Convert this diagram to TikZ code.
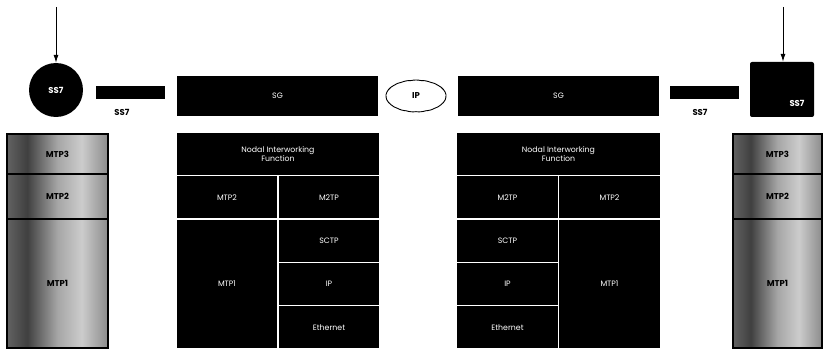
\documentclass[tikz,border=0pt]{standalone}
\usepackage{fontspec}
\setmainfont{Poppins}
\usetikzlibrary{arrows.meta,shapes.symbols,shapes.geometric}
\pgfdeclarehorizontalshading{stackgray}{100bp}{color(0bp)=(black!30); color(20bp)=(black!55); color(35bp)=(black!75); color(50bp)=(black!35); color(62bp)=(black!20); color(80bp)=(black!55); color(100bp)=(black!30)}
\tikzset{
  cell/.style={rectangle, fill=black, draw=white, line width=1.6pt, inner sep=0pt, text=white, font=\fontsize{7.8}{9}\selectfont, align=center},
  graycell/.style={rectangle, shading=stackgray, draw=black, line width=1.3pt, inner sep=0pt, text=black, font=\bfseries\fontsize{8.5}{9.5}\selectfont},
  bar/.style={rectangle, fill=black, inner sep=0pt, minimum width=69pt, minimum height=13pt},
  lbl/.style={font=\bfseries\fontsize{8.5}{9.5}\selectfont, inner sep=0pt},
  inarrow/.style={-{Latex[length=8pt,width=5pt]}, line width=0.9pt}
}
\begin{document}
\begin{tikzpicture}[x=1pt,y=-1pt]
\useasboundingbox (0,0) rectangle (823,350);
% left side
\node[circle, fill=black, minimum size=54pt, inner sep=0pt, text=white, lbl] (c1) at (56,90) {SS7};
\coordinate (a1) at (56,7);
\draw[inarrow] (a1) -- (c1.north);
\node[bar] (barL) at (130.5,92.5) {};
\node[lbl] (barLl) at (122,112) {SS7};
\node[cell, minimum width=203pt, minimum height=42pt] (sgL) at (277.5,96) {SG};
\node[cloud, cloud puffs=19, cloud puff arc=25, aspect=2.2, draw=black, line width=0.9pt, fill=white, minimum width=60pt, minimum height=32pt, inner sep=0pt, lbl] (ip) at (416,96) {IP};
\node[cell, minimum width=203pt, minimum height=42pt] (sgR) at (558.5,96) {SG};
\node[bar] (barR) at (704,92.5) {};
\node[lbl] (barRl) at (700,112) {SS7};
\node[rectangle, rounded corners=2pt, fill=black, minimum width=64pt, minimum height=55pt, inner sep=0pt] (sq) at (782,89.5) {};
\node[lbl, text=white] (sql) at (797,103) {SS7};
\coordinate (a2) at (783,7);
\draw[inarrow] (a2) -- (sq.north -| a2);
% left grey stack
\node[graycell, minimum width=101pt, minimum height=40pt] (lm3) at (57.5,154) {MTP3};
\node[graycell, minimum width=101pt, minimum height=45pt] (lm2) at (57.5,196.5) {MTP2};
\node[graycell, minimum width=101pt, minimum height=129pt] (lm1) at (57.5,283.5) {MTP1};
% left NIF stack
\node[cell, minimum width=204pt, minimum height=43pt] (nifL) at (278,154) {Nodal Interworking\\Function};
\node[cell, minimum width=102pt, minimum height=43.5pt] (mtp2L) at (227,197.25) {MTP2};
\node[cell, minimum width=102pt, minimum height=43.5pt] (m2tpL) at (329,197.25) {M2TP};
\node[cell, minimum width=102pt, minimum height=130pt] (mtp1L) at (227,284) {MTP1};
\node[cell, minimum width=102pt, minimum height=43.5pt] (sctpL) at (329,240.75) {SCTP};
\node[cell, minimum width=102pt, minimum height=43pt] (ipL) at (329,284) {IP};
\node[cell, minimum width=102pt, minimum height=43.5pt] (ethL) at (329,327.25) {Ethernet};
% right NIF stack
\node[cell, minimum width=204pt, minimum height=43pt] (nifR) at (558.5,154) {Nodal Interworking\\Function};
\node[cell, minimum width=102pt, minimum height=43.5pt] (m2tpR) at (507.5,197.25) {M2TP};
\node[cell, minimum width=102pt, minimum height=43.5pt] (mtp2R) at (609.5,197.25) {MTP2};
\node[cell, minimum width=102pt, minimum height=43.5pt] (sctpR) at (507.5,240.75) {SCTP};
\node[cell, minimum width=102pt, minimum height=43pt] (ipR) at (507.5,284) {IP};
\node[cell, minimum width=102pt, minimum height=43.5pt] (ethR) at (507.5,327.25) {Ethernet};
\node[cell, minimum width=102pt, minimum height=130pt] (mtp1R) at (609.5,284) {MTP1};
% right grey stack
\node[graycell, minimum width=89pt, minimum height=40pt] (rm3) at (777.5,154) {MTP3};
\node[graycell, minimum width=89pt, minimum height=45pt] (rm2) at (777.5,196.5) {MTP2};
\node[graycell, minimum width=89pt, minimum height=129pt] (rm1) at (777.5,283.5) {MTP1};
\end{tikzpicture}
\end{document}
